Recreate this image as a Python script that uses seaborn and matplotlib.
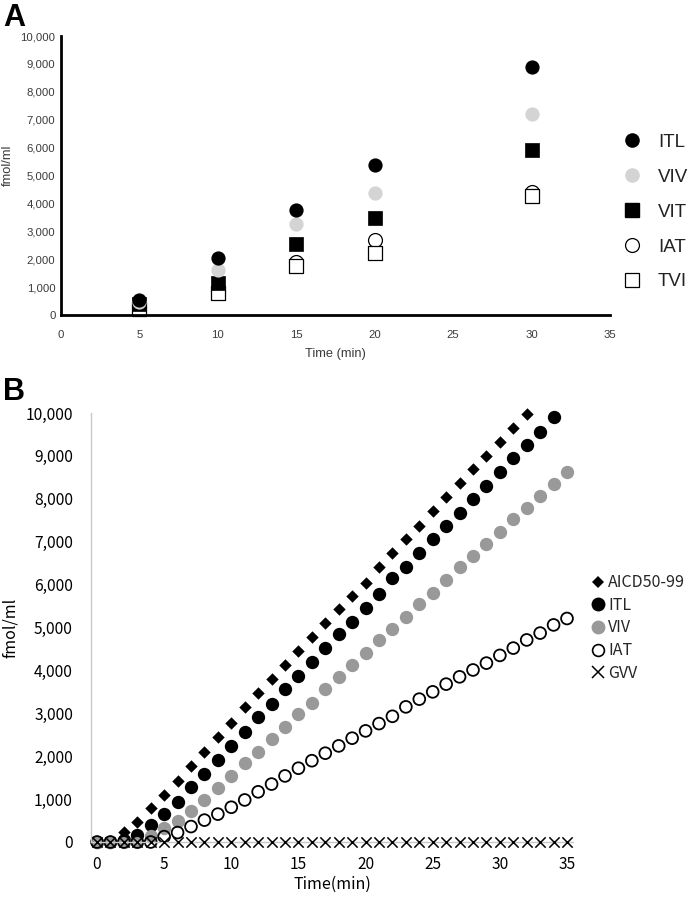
import numpy as np
import pandas as pd
import matplotlib
matplotlib.use("Agg")
import matplotlib.pyplot as plt
from matplotlib.lines import Line2D
import seaborn as sns

# ---------------- Panel A data ----------------
A_time = [5, 10, 15, 20, 30]
A_ITL = [540, 2040, 3760, 5380, 8890]
A_VIV = [450, 1610, 3260, 4370, 7200]
A_VIT = [380, 1150, 2540, 3470, 5910]
A_IAT = [300, 850, 1900, 2690, 4420]
A_TVI = [200, 790, 1760, 2220, 4250]
A_labels = ["ITL", "VIV", "VIT", "IAT", "TVI"]
A_xticks = [0, 5, 10, 15, 20, 25, 30, 35]
A_yticks = [0, 1000, 2000, 3000, 4000, 5000, 6000, 7000, 8000, 9000, 10000]

# ---------------- Panel B data ----------------
B_AICD = [0, 0, 240, 475, 785, 1095, 1430, 1770, 2105, 2440, 2780, 3140, 3470,
          3800, 4130, 4450, 4770, 5110, 5420, 5740, 6045, 6400, 6730, 7055,
          7365, 7715, 8035, 8360, 8690, 9000, 9330, 9640, 9980]
B_ITL = [0, 0, 40, 170, 400, 650, 940, 1275, 1585, 1910, 2240, 2570, 2905, 3215,
         3560, 3870, 4190, 4515, 4850, 5135, 5450, 5780, 6145, 6420, 6730, 7055,
         7365, 7675, 7990, 8300, 8630, 8945, 9255, 9565, 9900]
B_VIV = [0, 0, 0, 0, 130, 320, 500, 730, 980, 1250, 1540, 1835, 2105, 2395, 2690,
         2985, 3250, 3560, 3850, 4125, 4410, 4710, 4965, 5250, 5550, 5810, 6100,
         6400, 6665, 6945, 7235, 7520, 7780, 8065, 8345, 8630]
B_IAT = [0, 0, 0, 0, 0, 125, 220, 360, 510, 650, 810, 980, 1170, 1350, 1540, 1720,
         1895, 2070, 2240, 2420, 2590, 2760, 2930, 3150, 3330, 3500, 3680, 3850,
         4010, 4170, 4350, 4520, 4710, 4870, 5060, 5210]
B_GVV = [0, 0, 0, 0, 0, 0, 0, 0, 0, 0, 0, 0, 0, 0, 0, 0, 0, 0, 0, 0, 0, 0, 0, 0,
         0, 0, 0, 0, 0, 0, 0, 0, 0, 0, 0, 0]
B_labels = ["AICD50-99", "ITL", "VIV", "IAT", "GVV"]
B_xticks = [0, 5, 10, 15, 20, 25, 30, 35]
B_yticks = [0, 1000, 2000, 3000, 4000, 5000, 6000, 7000, 8000, 9000, 10000]

sns.set_theme(style="white")
plt.rcParams["font.family"] = ["Liberation Sans", "DejaVu Sans"]

fig = plt.figure(figsize=(6.92, 8.99), dpi=100)
W, H = 692.0, 899.0

def fx(px):
    return px / W

def fy(py):
    return 1 - py / H

# ================= Panel A =================
axA = fig.add_axes([fx(61), fy(315), fx(610) - fx(61), fy(36) - fy(315)])

def scat(ax, x, y, marker, s, fc, ec, lw, z=2):
    sns.scatterplot(x=x, y=y, ax=ax, marker=marker, s=s, color=ec,
                    edgecolor=ec, linewidth=lw, legend=False, zorder=z,
                    clip_on=False)
    coll = ax.collections[-1]
    coll.set_facecolor(fc)
    coll.set_edgecolor(ec)
    return coll

scat(axA, A_time, A_IAT, "o", 100, "white", "black", 0.9)
scat(axA, A_time, A_TVI, "s", 100, "white", "black", 0.9)
scat(axA, A_time, A_VIT, "s", 100, "black", "black", 0.5)
scat(axA, A_time, A_VIV, "o", 105, "#d4d4d4", "#d4d4d4", 0.0)
scat(axA, A_time, A_ITL, "o", 105, "black", "black", 0.0)

axA.set_xlim(0, 35)
axA.set_ylim(0, 10000)
axA.set_xticks(A_xticks)
axA.set_yticks(A_yticks)
axA.set_xticklabels([str(v) for v in A_xticks])
axA.set_yticklabels([f"{v:,}" for v in A_yticks])
for sp in ["top", "right"]:
    axA.spines[sp].set_visible(False)
for sp in ["left", "bottom"]:
    axA.spines[sp].set_color("black")
    axA.spines[sp].set_linewidth(2.0)
axA.tick_params(axis="both", which="major", length=2, width=0.6,
                color="#cccccc", direction="in", labelsize=8.2,
                labelcolor="#3a3a3a")
axA.tick_params(axis="x", pad=11)
axA.tick_params(axis="y", pad=4)
axA.set_xlabel("Time (min)", fontsize=9.3, color="#3a3a3a")
axA.set_ylabel("fmol/ml", fontsize=9.3, color="#3a3a3a")
axA.xaxis.set_label_coords(0.5, (315 - 348) / 279.0)
axA.yaxis.set_label_coords((14 - 61) / 549.0, (315 - 165) / 279.0)
axA.grid(False)

hA = [
    Line2D([], [], marker="o", linestyle="none", markersize=10.5,
           markerfacecolor="black", markeredgecolor="black", markeredgewidth=0),
    Line2D([], [], marker="o", linestyle="none", markersize=10.5,
           markerfacecolor="#d4d4d4", markeredgecolor="#d4d4d4", markeredgewidth=0),
    Line2D([], [], marker="s", linestyle="none", markersize=9.5,
           markerfacecolor="black", markeredgecolor="black"),
    Line2D([], [], marker="o", linestyle="none", markersize=10,
           markerfacecolor="white", markeredgecolor="black", markeredgewidth=0.9),
    Line2D([], [], marker="s", linestyle="none", markersize=10,
           markerfacecolor="white", markeredgecolor="black", markeredgewidth=0.9),
]
fsA = 13.5
fig.legend(hA, A_labels, loc="center left",
           bbox_to_anchor=(fx(622.6), fy(212)), bbox_transform=fig.transFigure,
           frameon=False, fontsize=fsA, handlelength=1.0, handletextpad=0.89,
           labelspacing=0.95, borderpad=0, borderaxespad=0, labelcolor="#222222")

fig.text(fx(3), fy(26), "A", fontsize=22, fontweight="bold", ha="left",
         va="baseline", color="black")

# ================= Panel B =================
cjk = ["Noto Sans CJK JP", "DejaVu Sans"]
x0px, x35px = 97.0, 567.0
ppu = (x35px - x0px) / 35.0
xmin = -(x0px - 91) / ppu
xmax = 35 + (573 - x35px) / ppu
axB = fig.add_axes([fx(91), fy(842), fx(573) - fx(91), fy(413) - fy(842)])

tB = list(range(0, 36))
scat(axB, tB[:len(B_AICD)], B_AICD, "D", 40, "black", "black", 0.0)
scat(axB, tB[:len(B_ITL)], B_ITL, "o", 92, "black", "black", 0.0)
scat(axB, tB[:len(B_VIV)], B_VIV, "o", 92, "#999999", "#999999", 0.0)
scat(axB, tB[:len(B_IAT)], B_IAT, "o", 72, "none", "black", 1.3)
sns.scatterplot(x=tB[:len(B_GVV)], y=B_GVV, ax=axB, marker="x", s=55,
                color="black", linewidth=1.1, legend=False, zorder=3,
                clip_on=False)

axB.set_xlim(xmin, xmax)
axB.set_ylim(0, 10000)
axB.set_xticks(B_xticks)
axB.set_yticks(B_yticks)
axB.set_xticklabels([str(v) for v in B_xticks], fontfamily=cjk)
axB.set_yticklabels([f"{v:,}" for v in B_yticks], fontfamily=cjk)
for sp in ["top", "right"]:
    axB.spines[sp].set_visible(False)
for sp in ["left", "bottom"]:
    axB.spines[sp].set_color("#c8c8c8")
    axB.spines[sp].set_linewidth(1.0)
axB.tick_params(axis="both", which="major", length=4, width=0.8,
                color="#c8c8c8", direction="out", labelsize=11.2,
                labelcolor="black")
axB.tick_params(axis="y", pad=9)
axB.tick_params(axis="x", pad=6)
axB.set_xlabel("Time(min)", fontsize=11.5, color="black", fontfamily=cjk)
axB.set_ylabel("fmol/ml", fontsize=11.5, color="black", fontfamily=cjk)
axB.xaxis.set_label_coords(0.5, (842 - 876) / 429.0)
axB.yaxis.set_label_coords((19 - 91) / 482.0, 0.5)
axB.grid(False)

hB = [
    Line2D([], [], marker="D", linestyle="none", markersize=6.5,
           markerfacecolor="black", markeredgecolor="black", markeredgewidth=0),
    Line2D([], [], marker="o", linestyle="none", markersize=10,
           markerfacecolor="black", markeredgecolor="black", markeredgewidth=0),
    Line2D([], [], marker="o", linestyle="none", markersize=10,
           markerfacecolor="#999999", markeredgecolor="#999999", markeredgewidth=0),
    Line2D([], [], marker="o", linestyle="none", markersize=8.5,
           markerfacecolor="none", markeredgecolor="black", markeredgewidth=1.2),
    Line2D([], [], marker="x", linestyle="none", markersize=8,
           markerfacecolor="black", markeredgecolor="black", markeredgewidth=1.1),
]
fsB = 11.5
legB = fig.legend(hB, B_labels, loc="center left",
                  bbox_to_anchor=(fx(591.6), fy(628)), bbox_transform=fig.transFigure,
                  frameon=False, fontsize=fsB, handlelength=0.8, handletextpad=0.22,
                  labelspacing=0.35, borderpad=0, borderaxespad=0,
                  prop={"family": cjk, "size": fsB})

fig.text(fx(3), fy(400), "B", fontsize=22, fontweight="bold", ha="left",
         va="baseline", color="black")

fig.savefig("out.png", dpi=100, facecolor="white")
